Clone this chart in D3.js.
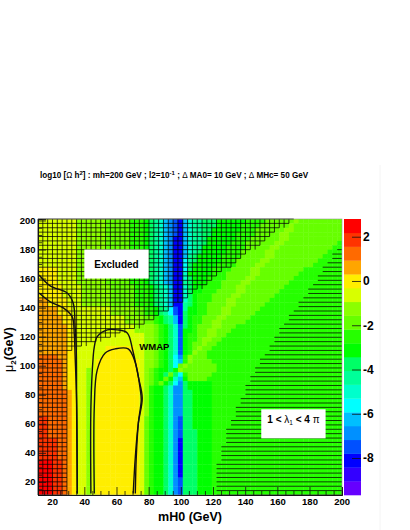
<!DOCTYPE html>
<html>
<head>
<meta charset="utf-8">
<script src="https://cdn.jsdelivr.net/npm/d3@7"></script>
<style>
  html, body { margin: 0; padding: 0; background: #fff; }
  text { font-family: "Liberation Sans", Arial, sans-serif; font-weight: bold; fill: #000; }
  .axis text { font-size: 9.5px; }
  .axis path, .axis line { stroke: #111; stroke-width: 0.8; }
  .zaxis text { font-size: 12px; }
  .zaxis line { stroke: #111; stroke-width: 0.8; }
  .thin { font-weight: normal; }
</style>
</head>
<body>
<div id="chart"></div>
<script>
var width = 410, height = 530;
var plotLeft = 38, plotRight = 342, plotTop = 219, plotBottom = 495;
var barLeft = 344, barRight = 361;

// axis ranges and ticks
var xRange = [11.2, 200.2];
var yRange = [11, 201];
var zRange = [-9.67, 2.8];
var xMajor = [20, 40, 60, 80, 100, 120, 140, 160, 180, 200];
var yMajor = [20, 40, 60, 80, 100, 120, 140, 160, 180, 200];
var xMinor = [15, 25, 30, 35, 45, 50, 55, 65, 70, 75, 85, 90, 95, 105, 110, 115, 125, 130, 135, 145, 150, 155, 165, 170, 175, 185, 190, 195];
var yMinor = [15, 25, 30, 35, 45, 50, 55, 65, 70, 75, 85, 90, 95, 105, 110, 115, 125, 130, 135, 145, 150, 155, 165, 170, 175, 185, 190, 195];
var zTicks = [-8, -6, -4, -2, 0, 2];

// 20 colour bands, bottom to top
var palette = ['#6600ff', '#3300ff', '#0000ff', '#0050ff', '#0090ff', '#00bfff', '#00ffff', '#00ffcc', '#00ff99', '#00ff66',
  '#00ff00', '#26ff00', '#66ff00', '#8cff00', '#d8ff00', '#ffee00', '#ffa500', '#ff6a00', '#ff3300', '#ff0000'];
var bandKeys = '0123456789abcdefghij';

// colour band of each cell, run length coded (band letter, then cell count), top row first.
// rowRepeat says how many rows of 63 cells each entry covers.
var rowRepeat = [1, 1, 1, 1, 1, 1, 1, 1, 1, 1, 1, 1, 1, 1, 1, 1, 1, 1, 1, 1, 1, 1, 1, 1, 1, 1, 1, 1, 1, 1, 1, 1, 1, 1, 1, 1, 1, 1, 1, 6, 3, 2, 5, 4, 4];
var rowRuns = [
  'e8 d6 c5 b3 a1 91 81 71 51 41 31 21 51 71 82 93 a6 b4 c6 d1 c9',
  'e8 d6 c5 b3 a1 91 81 71 51 41 31 21 51 71 82 93 a5 b4 c6 d1 c10',
  'e8 d6 c5 b3 a1 91 81 71 51 41 31 21 51 71 82 92 a6 b3 c6 d2 c10',
  'e8 d6 c5 b3 a1 91 81 71 51 41 31 21 51 71 82 92 a5 b4 c5 d2 c11',
  'e8 d6 c5 b3 a1 91 81 71 51 41 22 51 71 82 91 a6 b3 c6 d2 c11',
  'e8 d6 c5 b3 a1 91 81 71 51 41 22 51 71 82 91 a5 b3 c6 d2 c11 b1',
  'e8 d6 c5 b3 a1 91 81 71 51 41 22 51 71 82 a5 b4 c5 d2 c11 b2',
  'e8 d6 c5 b3 a1 91 81 71 51 41 22 51 71 81 91 a5 b3 c5 d2 c11 b3',
  'e8 d6 c5 b3 a1 91 81 71 51 41 22 51 81 91 a5 b4 c5 d2 c10 b4',
  'e8 d6 c5 b3 a1 91 81 71 51 41 22 61 81 91 a5 b3 c5 d2 c10 b5',
  'e8 d6 c5 b3 a1 91 81 71 51 41 22 61 91 a5 b4 c4 d2 c10 b6',
  'f4 e4 d6 c5 b3 a1 91 81 71 51 41 22 61 91 a4 b4 c4 d2 c9 b8',
  'f4 e4 d6 c5 b3 a1 91 81 71 51 41 22 71 a5 b3 c5 d2 c8 b9',
  'f4 e4 d6 c5 b3 a1 91 81 71 51 41 22 71 91 a3 b4 c4 d2 c8 b10',
  'f4 e4 d6 c5 b3 a1 91 81 71 51 41 22 81 91 a3 b3 c4 d2 c8 b11',
  'f5 e4 d6 c5 b3 a1 91 81 71 51 22 71 91 a2 b4 c3 d2 c8 b12',
  'f5 e4 d6 c5 b3 a1 91 81 71 51 22 71 91 a2 b3 c4 d2 c7 b13',
  'f5 e4 d6 c5 b3 a1 91 81 71 51 22 71 91 a1 b3 c4 d2 c7 b14',
  'g2 f4 e3 d6 c5 b3 a1 91 81 71 51 22 71 91 a1 b3 c3 d2 c7 b15',
  'g2 f4 e3 d6 c5 b3 a1 91 81 71 51 22 81 91 a1 b2 c4 d2 c6 b16',
  'g4 f3 e8 d5 c2 b2 a1 91 81 61 31 21 81 a2 b2 c3 d2 c6 b17',
  'g4 f3 e8 d5 c2 b2 a1 91 81 61 31 21 91 a2 b2 c3 d2 c5 b18',
  'g5 f3 e10 d4 c2 b1 a1 91 81 51 21 91 a1 b2 c3 d2 c5 b19',
  'g5 f3 e10 d4 c2 b1 a1 91 81 51 21 91 a1 b2 c2 d2 c5 b20',
  'g6 f2 e12 d4 c1 b1 a1 91 71 31 91 a1 b1 c3 d2 c3 b22',
  'g6 f2 e12 d4 c1 b1 a1 91 71 31 a2 b1 c2 d2 c3 b23',
  'g6 f2 e14 d2 c1 b1 a1 91 71 31 a1 b2 c2 d2 c2 b24',
  'g6 f2 e14 d2 c1 b1 a1 91 71 31 a1 b2 c1 d2 c2 b25',
  'g6 f2 e14 d2 c1 b1 a1 91 71 31 a1 b1 c2 d1 c2 b26',
  'g6 f2 e6 f6 e2 d2 c1 b1 a1 91 71 31 a1 b1 c1 d1 c2 b27',
  'g6 f2 e6 f6 e2 d2 c1 b1 a1 91 71 31 a1 b1 d1 c2 b28',
  'h4 g2 f2 e5 f7 e2 d2 c1 b1 a1 91 61 41 b1 d1 c3 b28',
  'h5 g1 f2 e4 f9 e1 d2 c1 b1 a1 91 61 51 b1 d1 c4 b27',
  'h5 g1 f2 e4 f9 e1 d2 c1 b1 a1 91 61 c1 d1 c6 b26',
  'h5 g1 f2 e2 d1 e1 f9 e1 d1 c1 b1 a2 91 a1 d1 c7 b26',
  'h5 g1 f2 e2 d1 e1 f9 e1 d1 c1 b1 a1 91 c1 91 61 b1 c5 b27',
  'h5 g1 f2 e2 d1 e1 f9 e1 d1 c1 b1 a1 c1 a1 71 51 a1 c4 b28',
  'h5 g1 f2 e2 d1 e1 f9 e1 d1 c1 b1 c1 a1 91 61 41 91 a5 b27',
  'h5 g1 f2 e2 d1 e1 f9 e1 d1 b1 a2 91 71 41 41 91 a5 b27',
  'h6 g1 f1 e2 d1 e1 f9 e1 d1 b1 a2 91 71 41 41 92 a4 b27',
  'i2 h4 g1 f1 e2 d1 e1 f9 e1 c1 b1 a2 91 71 41 31 92 a4 b27',
  'i2 h4 g1 f1 e2 d1 e1 f9 e1 c1 b1 a2 91 71 41 31 93 a3 b27',
  'i4 h2 g1 f1 e2 d1 e1 f9 e1 c1 b1 a2 91 71 41 21 93 a3 b27',
  'j3 i2 h1 g1 f1 e2 d1 e1 f9 e1 c1 b1 a2 91 71 41 21 93 a3 b27',
  'j3 i2 h1 g1 f1 e2 d1 e1 f9 e1 c1 b1 a2 91 71 41 31 93 a3 b27'
];

// excluded region: lower edge of the hatching
var excludedX = [30, 30, 38, 75, 104.6, 170];
var excludedY = [11, 110, 113, 127, 147, 201];

// 1 < lambda < 4 pi region: left edge of the hatching
var lambdaY = [11, 15, 32, 58, 83, 104.7, 108, 133.6, 158, 182];
var lambdaX = [121, 121.6, 123.6, 130, 140, 150, 152.6, 167, 184, 197.6];

// WMAP contours
var leftOuterX = [11.9, 18.8, 29.3, 33.1, 34.3, 35, 35.2, 35.6];
var leftOuterY = [162.5, 155, 150, 143, 126.7, 110.9, 71.6, 12];
var leftInnerX = [11.9, 18.8, 26.9, 32.5, 33.7, 34.3, 35.3, 35.6];
var leftInnerY = [150, 144, 139.8, 133.6, 122.6, 106, 71.6, 12];
var midOuterX = [44.1, 44.1, 45.5, 46.2, 48, 54.3, 60.5, 66.7, 70, 73.6, 76, 73.6, 71.7, 70.4];
var midOuterY = [12, 71.6, 106, 113, 120, 124.7, 124.7, 122.6, 111, 92.3, 77.8, 60.6, 37.2, 12];
var midInnerX = [46.2, 46.2, 48, 53, 59.2, 67.3, 71.7, 74.8, 75.4, 73.6, 72.3, 71.7];
var midInnerY = [12, 71.6, 97, 108.8, 111.6, 111.6, 102, 83.4, 76.5, 60.6, 37.2, 12];

var svg = d3.select('#chart')
  .append('svg')
  .attr('width', width)
  .attr('height', height)
  .style('display', 'block');

var xScale = d3.scaleLinear().domain(xRange).range([plotLeft, plotRight]);
var yScale = d3.scaleLinear().domain(yRange).range([plotBottom, plotTop]);
var zScale = d3.scaleLinear().domain(zRange).range([plotBottom, plotTop]);
var colBand = d3.scaleBand().domain(d3.range(63)).range([plotLeft, plotRight]);
var rowBand = d3.scaleBand().domain(d3.range(63)).range([plotTop, plotBottom]);
var color = d3.scaleOrdinal().domain(bandKeys.split('')).range(palette);

// expand the runs into cells
var cells = [];
var rowIndex = 0;
rowRuns.forEach(function (runs, n) {
  var row = [];
  runs.split(' ').forEach(function (run) {
    var count = +run.slice(1);
    for (var i = 0; i < count; i++) row.push(run[0]);
  });
  for (var r = 0; r < rowRepeat[n]; r++) {
    row.forEach(function (key, col) {
      cells.push({ row: rowIndex, col: col, key: key });
    });
    rowIndex++;
  }
});

svg.append('g').selectAll('rect')
  .data(cells)
  .enter()
  .append('rect')
  .attr('x', function (d) { return colBand(d.col); })
  .attr('y', function (d) { return rowBand(d.row); })
  .attr('width', function (d) { return colBand.bandwidth() + (d.col < 62 ? 0.4 : 0); })
  .attr('height', function (d) { return rowBand.bandwidth() + (d.row < 62 ? 0.4 : 0); })
  .attr('fill', function (d) { return color(d.key); });

// hatching sits on the cell borders
var excludedEndX = d3.scaleLinear().domain(excludedY).range(excludedX).clamp(true);
var excludedEndY = d3.scaleLinear().domain(excludedX.slice(1)).range(excludedY.slice(1)).clamp(true);
var lambdaStartX = d3.scaleLinear().domain(lambdaY).range(lambdaX).clamp(true);

var rowEdges = d3.range(64).map(function (r) { return plotTop + r * rowBand.step(); });
var colEdges = d3.range(64).map(function (c) { return plotLeft + c * colBand.step(); });

var hatch = svg.append('g')
  .attr('stroke', '#000')
  .attr('stroke-width', 1)
  .attr('stroke-opacity', 0.75);

rowEdges.forEach(function (py) {
  var yVal = yScale.invert(py);
  var endPx = xScale(excludedEndX(yVal));
  var snapped = plotLeft + Math.round((endPx - plotLeft) / colBand.step()) * colBand.step();
  hatch.append('line').attr('x1', plotLeft).attr('x2', snapped).attr('y1', py).attr('y2', py);
});

colEdges.forEach(function (px) {
  var xVal = xScale.invert(px);
  if (xVal > 170) return;
  var bottom = xVal <= 30 ? plotBottom : yScale(excludedEndY(xVal));
  var snapped = plotTop + Math.round((bottom - plotTop) / rowBand.step()) * rowBand.step();
  hatch.append('line').attr('x1', px).attr('x2', px).attr('y1', plotTop).attr('y2', snapped);
});

rowEdges.forEach(function (py) {
  var yVal = yScale.invert(py);
  if (yVal > lambdaY[lambdaY.length - 1]) return;
  var startPx = xScale(lambdaStartX(yVal));
  var snapped = plotLeft + Math.round((startPx - plotLeft) / colBand.step()) * colBand.step();
  hatch.append('line').attr('x1', snapped).attr('x2', plotRight).attr('y1', py).attr('y2', py);
});

// contours
var contour = d3.line().curve(d3.curveCatmullRom.alpha(0.5));
[[leftOuterX, leftOuterY], [leftInnerX, leftInnerY], [midOuterX, midOuterY], [midInnerX, midInnerY]].forEach(function (c) {
  svg.append('path')
    .attr('d', contour(c[0].map(function (x, i) { return [xScale(x), yScale(c[1][i])]; })))
    .attr('fill', 'none')
    .attr('stroke', '#111')
    .attr('stroke-width', 1.4);
});

// frame
svg.append('rect')
  .attr('x', plotLeft)
  .attr('y', plotTop)
  .attr('width', plotRight - plotLeft)
  .attr('height', plotBottom - plotTop)
  .attr('fill', 'none')
  .attr('stroke', '#999')
  .attr('stroke-width', 0.6);

// white label boxes
svg.append('rect')
  .attr('x', xScale(40)).attr('y', yScale(180))
  .attr('width', xScale(80) - xScale(40)).attr('height', yScale(160) - yScale(180))
  .attr('fill', '#fff');
svg.append('text')
  .attr('x', xScale(60)).attr('y', yScale(170) + 3.5)
  .attr('text-anchor', 'middle').style('font-size', '10px')
  .text('Excluded');

svg.append('rect')
  .attr('x', xScale(150)).attr('y', yScale(70))
  .attr('width', xScale(190) - xScale(150)).attr('height', yScale(50) - yScale(70))
  .attr('fill', '#fff');
var lambdaText = svg.append('text')
  .attr('x', xScale(170)).attr('y', yScale(60) - 1)
  .attr('text-anchor', 'middle').style('font-size', '10px');
lambdaText.append('tspan').text('1 < ');
lambdaText.append('tspan').attr('class', 'thin').text('\u03bb');
lambdaText.append('tspan').attr('class', 'thin').attr('dy', 2.5).style('font-size', '6.5px').text('1');
lambdaText.append('tspan').attr('dy', -2.5).text(' < 4 ');
lambdaText.append('tspan').attr('class', 'thin').text('\u03c0');

svg.append('text')
  .attr('x', xScale(74.2)).attr('y', yScale(110.5))
  .style('font-size', '9.5px')
  .text('WMAP');

// axes
svg.append('g').attr('class', 'axis')
  .attr('transform', 'translate(0,' + plotBottom + ')')
  .call(d3.axisBottom(xScale).tickValues(xMajor).tickSize(-8).tickPadding(3).tickFormat(function (d) { return d; }));
svg.append('g').attr('class', 'axis')
  .attr('transform', 'translate(0,' + plotBottom + ')')
  .call(d3.axisBottom(xScale).tickValues(xMinor).tickSize(-4).tickFormat(''));
svg.append('g').attr('class', 'axis')
  .attr('transform', 'translate(' + plotLeft + ',0)')
  .call(d3.axisLeft(yScale).tickValues(yMajor).tickSize(-8).tickPadding(2.5).tickFormat(function (d) { return d; }));
svg.append('g').attr('class', 'axis')
  .attr('transform', 'translate(' + plotLeft + ',0)')
  .call(d3.axisLeft(yScale).tickValues(yMinor).tickSize(-4).tickFormat(''));

// colour bar
svg.append('g').selectAll('rect')
  .data(palette)
  .enter()
  .append('rect')
  .attr('x', barLeft)
  .attr('width', barRight - barLeft)
  .attr('y', function (d, i) { return zScale(zRange[0] + (i + 1) * (zRange[1] - zRange[0]) / 20); })
  .attr('height', (plotBottom - plotTop) / 20 + 0.3)
  .attr('fill', function (d) { return d; });

svg.append('g').attr('class', 'zaxis')
  .attr('transform', 'translate(' + barRight + ',0)')
  .call(d3.axisRight(zScale).tickValues(zTicks).tickSize(-9).tickPadding(2).tickFormat(function (d) { return d; }))
  .call(function (g) { g.select('.domain').remove(); });

svg.append('line')
  .attr('x1', 380).attr('x2', 380).attr('y1', 165).attr('y2', height)
  .attr('stroke', '#f4f4f4');

// title and axis labels
var title = svg.append('text')
  .attr('x', 40).attr('y', 178)
  .style('font-size', '8.15px');
title.append('tspan').text('log10 [');
title.append('tspan').attr('class', 'thin').text('\u03a9');
title.append('tspan').text(' h');
title.append('tspan').attr('dy', -3).style('font-size', '6px').text('2');
title.append('tspan').attr('dy', 3).text('] : mh=200 GeV ; l2=10');
title.append('tspan').attr('dy', -3).style('font-size', '6px').text('-1');
title.append('tspan').attr('dy', 3).text(' ; ');
title.append('tspan').attr('class', 'thin').text('\u0394');
title.append('tspan').text(' MA0= 10 GeV ; ');
title.append('tspan').attr('class', 'thin').text('\u0394');
title.append('tspan').text(' MHc= 50 GeV');

svg.append('text')
  .attr('x', 222).attr('y', 521)
  .attr('text-anchor', 'end')
  .style('font-size', '12.5px')
  .text('mH0 (GeV)');

var yLabel = svg.append('text')
  .attr('transform', 'translate(13,372) rotate(-90)')
  .style('font-size', '12.5px');
yLabel.append('tspan').attr('class', 'thin').text('\u03bc');
yLabel.append('tspan').attr('dy', 3).style('font-size', '8px').text('2');
yLabel.append('tspan').attr('dy', -3).text('(GeV)');
</script>
</body>
</html>
